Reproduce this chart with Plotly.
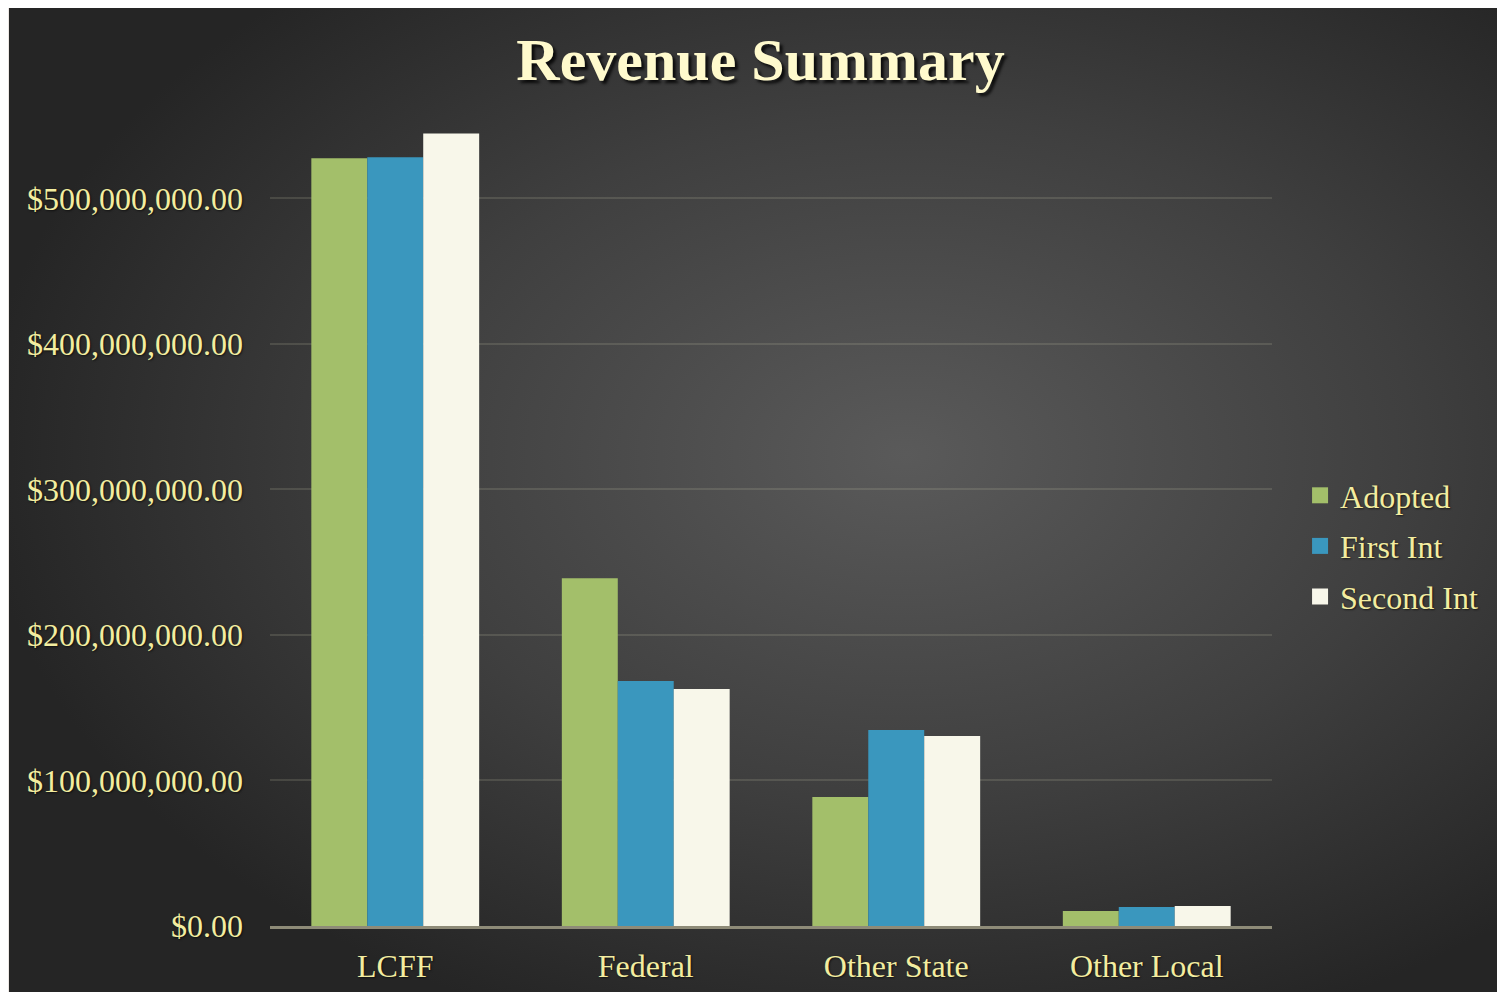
"""Revenue summary: grouped bars on a dark radial-gradient slide background."""
from __future__ import annotations

import base64

import plotly.graph_objects as go

CATEGORIES = ["LCFF", "Federal", "Other State", "Other Local"]
ADOPTED = [527.5e6, 239.0e6, 88.6e6, 10.3e6]
FIRST_INT = [528.2e6, 168.3e6, 134.6e6, 13.0e6]
SECOND_INT = [544.6e6, 162.8e6, 130.5e6, 13.7e6]
SERIES_NAMES = ["Adopted", "First Int", "Second Int"]
TICK_VALUES = [0, 100e6, 200e6, 300e6, 400e6, 500e6]

W, H = 1505, 992
# the page body adds an 8px margin, so lay things out 8px up/left of where they land
MARGIN = dict(l=262, r=241, t=103, b=74)
SERIF = "Liberation Serif, Times New Roman, serif"
TEXT_YELLOW = "#F3EDA0"
TITLE_CREAM = "#FFFACD"
BAR_COLORS = ["#A3BF6A", "#3A97BE", "#F8F7EA"]
SHADOW = "1px 1px 2px rgba(0,0,0,0.6)"


def _background_svg() -> str:
    # plotly can't do radial gradients on the paper, so paint one as an svg image
    svg = f"""<svg xmlns='http://www.w3.org/2000/svg' width='{W}' height='{H}' viewBox='0 0 {W} {H}' preserveAspectRatio='none'>
<defs><radialGradient id='g' cx='0.6' cy='0.45' r='0.62'>
<stop offset='0' stop-color='#5a5a5a'/><stop offset='0.55' stop-color='#3f3f3f'/><stop offset='1' stop-color='#252525'/>
</radialGradient></defs>
<rect x='0' y='0' width='{W}' height='{H}' fill='#ECE7E3'/>
<rect x='1' y='0' width='1494' height='{H}' fill='url(#g)'/>
</svg>"""
    return "data:image/svg+xml;base64," + base64.b64encode(svg.encode()).decode()


fig = go.Figure()
for name, values, color in zip(SERIES_NAMES, [ADOPTED, FIRST_INT, SECOND_INT], BAR_COLORS):
    fig.add_trace(go.Bar(name=name, x=CATEGORIES, y=values, marker=dict(color=color, line_width=0),
                         showlegend=False))
    # bar legend swatches are tiny, so a marker-only stand-in carries the legend entry
    fig.add_trace(go.Scatter(name=name, x=[None], y=[None], mode="markers", legendgroup=name,
                             marker=dict(symbol="square", size=16, color=color)))

plot_w = W - MARGIN["l"] - MARGIN["r"]
plot_h = H - MARGIN["t"] - MARGIN["b"]
fig.add_layout_image(
    source=_background_svg(),
    xref="paper", yref="paper",
    x=-MARGIN["l"] / plot_w, y=1 + MARGIN["t"] / plot_h,
    sizex=W / plot_w, sizey=H / plot_h,
    xanchor="left", yanchor="top",
    sizing="stretch", layer="below",
)

fig.update_layout(
    width=W,
    height=H,
    margin=MARGIN,
    paper_bgcolor="#ECE7E3",
    plot_bgcolor="rgba(0,0,0,0)",
    barmode="group",
    bargap=0.33,
    bargroupgap=0,
    font=dict(family=SERIF, color=TEXT_YELLOW, size=32),
    title=dict(
        text="<b>Revenue Summary</b>",
        x=0.5, xanchor="center", xref="container",
        y=1 - 51 / H, yanchor="middle", yref="container",
        font=dict(family=SERIF, size=60, color=TITLE_CREAM, shadow="3px 3px 3px rgba(0,0,0,0.8)"),
    ),
    legend=dict(
        x=1.028, xanchor="left", y=(918 - 538) / plot_h, yanchor="middle",
        font=dict(size=32, color=TEXT_YELLOW, shadow=SHADOW),
        bgcolor="rgba(0,0,0,0)",
        tracegroupgap=6,
    ),
    showlegend=True,
)
fig.update_xaxes(
    showgrid=False,
    showline=True, linecolor="#8E8B78", linewidth=3,
    ticks="", ticklabelstandoff=10,
    tickfont=dict(size=32, shadow=SHADOW),
)
fig.update_yaxes(
    range=[0, 5.6e8],
    tickvals=TICK_VALUES, tickformat="$,.2f",
    showgrid=True, gridcolor="rgba(200,200,170,0.17)", gridwidth=2,
    zeroline=False, showline=False,
    ticks="", ticklabelstandoff=26,
    tickfont=dict(size=32, shadow=SHADOW),
)

fig.write_html("out.html")
